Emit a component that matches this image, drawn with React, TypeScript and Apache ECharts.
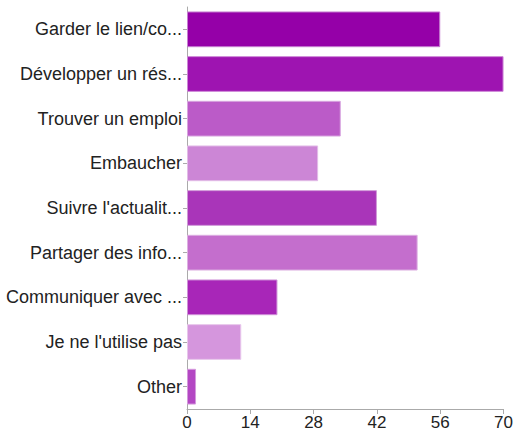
import React, { useEffect, useRef } from "react";
import * as echarts from "echarts";

const categories = [
  "Garder le lien/co...",
  "Développer un rés...",
  "Trouver un emploi",
  "Embaucher",
  "Suivre l'actualit...",
  "Partager des info...",
  "Communiquer avec ...",
  "Je ne l'utilise pas",
  "Other",
];
const values = [56, 70, 34, 29, 42, 51, 20, 12, 2];
const colors = [
  "#9500a8",
  "#9e14b1",
  "#bb5bc8",
  "#cc86d6",
  "#a935b9",
  "#c46ecd",
  "#a826b8",
  "#d596dd",
  "#b347c3",
];
const borderColors = [
  "#c77fd2",
  "#cd86d6",
  "#d8a5df",
  "#e2bce7",
  "#d09ad8",
  "#ddb0e2",
  "#cf91d8",
  "#e7c6eb",
  "#d499dc",
];
const xTicks = { min: 0, max: 70, interval: 14 };

export default function App() {
  const ref = useRef<HTMLDivElement>(null);
  useEffect(() => {
    const chart = echarts.init(ref.current!, null, { renderer: "svg" });
    chart.setOption({
      animation: false,
      grid: { left: 187, right: 12, top: 7, bottom: 23, containLabel: false },
      xAxis: {
        type: "value",
        min: xTicks.min,
        max: xTicks.max,
        interval: xTicks.interval,
        splitLine: { show: false },
        axisLine: { show: true, lineStyle: { color: "#aaaaaa", width: 1 } },
        axisTick: { show: true, length: 5, lineStyle: { color: "#aaaaaa" } },
        axisLabel: {
          color: "#222222",
          fontSize: 17,
          fontFamily: "Liberation Sans, Arial, sans-serif",
          margin: 5,
        },
      },
      yAxis: {
        type: "category",
        data: categories,
        inverse: true,
        axisLine: { show: true, lineStyle: { color: "#aaaaaa", width: 1 } },
        axisTick: {
          show: true,
          length: 4,
          alignWithLabel: true,
          lineStyle: { color: "#aaaaaa" },
        },
        axisLabel: {
          color: "#222222",
          fontSize: 18,
          fontFamily: "Liberation Sans, Arial, sans-serif",
          margin: 5,
        },
      },
      series: [
        {
          type: "bar",
          barCategoryGap: "20%",
          data: values.map((v, i) => ({
            value: v,
            itemStyle: {
              color: colors[i],
              borderColor: borderColors[i],
              borderWidth: 1,
            },
          })),
        },
      ],
    });
    return () => chart.dispose();
  }, []);
  return (
    <div
      ref={ref}
      style={{ position: "absolute", left: 0, top: 0, width: 516, height: 432 }}
    />
  );
}
